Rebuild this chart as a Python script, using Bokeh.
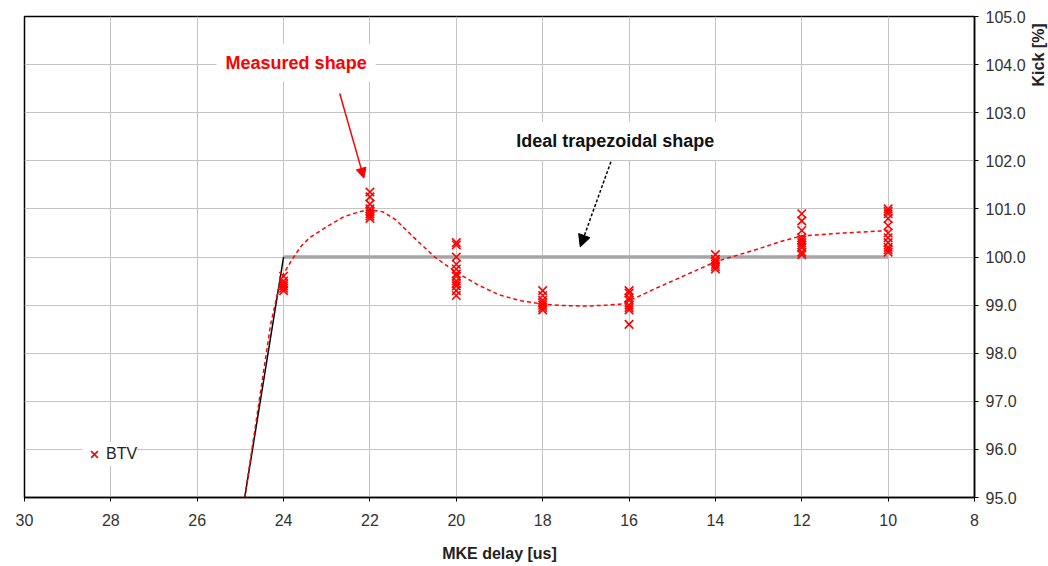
import math
from bokeh.plotting import figure
from bokeh.layouts import row
from bokeh.models import (Range1d, Label, Arrow, NormalHead, FixedTicker,
                          NumeralTickFormatter, ColumnDataSource)
from bokeh.embed import file_html
from bokeh.resources import INLINE

# ---- data ----
delays = [24, 22, 20, 18, 16, 14, 12, 10]
kick_24 = [99.6, 99.5, 99.45, 99.4, 99.35, 99.3]
kick_22 = [101.35, 101.25, 101.1, 101.0, 100.95, 100.9, 100.85, 100.8]
kick_20 = [100.3, 100.25, 100.0, 99.85, 99.75, 99.65, 99.6, 99.5, 99.45, 99.4, 99.3, 99.2]
kick_18 = [99.3, 99.2, 99.1, 99.05, 99.0, 98.95, 98.9]
kick_16 = [99.3, 99.25, 99.15, 99.1, 99.0, 98.95, 98.9, 98.6]
kick_14 = [100.05, 99.95, 99.9, 99.85, 99.8, 99.75]
kick_12 = [100.9, 100.75, 100.55, 100.4, 100.35, 100.3, 100.25, 100.2, 100.1, 100.05]
kick_10 = [101.0, 100.95, 100.9, 100.8, 100.65, 100.5, 100.4, 100.3, 100.2, 100.15, 100.1]
measured = [kick_24, kick_22, kick_20, kick_18, kick_16, kick_14, kick_12, kick_10]

fit_x = [24.9, 24.6, 24.3, 24.1, 24.0, 23.8, 23.6, 23.4, 23.0, 22.6, 22.2, 22.0, 21.7,
         21.4, 21.0, 20.5, 20.0, 19.5, 19.0, 18.5, 18.0, 17.5, 17.0, 16.5, 16.2, 15.8,
         15.4, 14.8, 14.0, 13.0, 12.5, 12.0, 11.0, 10.2, 10.0]
fit_y = [95.0, 96.8, 98.6, 99.4, 99.65, 99.95, 100.22, 100.4, 100.63, 100.84, 100.95,
         100.98, 100.94, 100.77, 100.42, 100.0, 99.68, 99.42, 99.21, 99.09, 99.02, 98.99,
         98.98, 99.0, 99.02, 99.17, 99.34, 99.58, 99.9, 100.17, 100.32, 100.44, 100.5,
         100.54, 100.55]

ideal_ramp_x = [24.9, 24.0]
ideal_ramp_y = [95.0, 100.0]
ideal_flat_x = [24.0, 10.0]
ideal_flat_y = [100.0, 100.0]

x_ticks = [30, 28, 26, 24, 22, 20, 18, 16, 14, 12, 10, 8]
y_ticks = [95, 96, 97, 98, 99, 100, 101, 102, 103, 104, 105]

FONT = "Liberation Sans"

pts_x, pts_y = [], []
for d, vals in zip(delays, measured):
    for v in vals:
        pts_x.append(d)
        pts_y.append(v)

H = 564
p = figure(width=1028, height=H, x_range=Range1d(30, 8), y_range=Range1d(95, 105),
           y_axis_location="right", output_backend="svg", toolbar_location=None,
           min_border_left=24, min_border_top=16, min_border_right=53, min_border_bottom=66)

p.outline_line_color = "black"
p.outline_line_width = 1.5
p.background_fill_color = "white"
p.border_fill_color = "white"

p.grid.grid_line_color = "#c4c4c4"
p.grid.grid_line_width = 1

p.xaxis.ticker = FixedTicker(ticks=x_ticks)
p.yaxis.ticker = FixedTicker(ticks=y_ticks)
p.yaxis.formatter = NumeralTickFormatter(format="0.0")
for ax in (p.xaxis, p.yaxis):
    ax.axis_line_color = "black"
    ax.axis_line_width = 1.5
    ax.major_tick_line_color = "black"
    ax.major_tick_out = 4
    ax.major_tick_in = 0
    ax.minor_tick_line_color = None
    ax.major_label_text_font = FONT
    ax.major_label_text_font_size = "16px"
    ax.major_label_text_color = "#333333"
p.xaxis.major_label_standoff = 12
p.yaxis.major_label_standoff = 7
p.xaxis.axis_label = "MKE delay [us]"
p.xaxis.axis_label_text_font = FONT
p.xaxis.axis_label_text_font_size = "16px"
p.xaxis.axis_label_text_font_style = "bold"
p.xaxis.axis_label_text_color = "#222222"
p.xaxis.axis_label_standoff = 16

# ideal shape
p.line(ideal_flat_x, ideal_flat_y, line_color="#a6a6a6", line_width=3.5)
p.line(ideal_ramp_x, ideal_ramp_y, line_color="black", line_width=1.5)

# fit curve
p.line(fit_x, fit_y, line_color="red", line_width=1.5, line_dash="4 3")

# measured points
src = ColumnDataSource(dict(x=pts_x, y=pts_y))
p.scatter("x", "y", source=src, marker="x", size=12, line_color="red", line_width=1.6,
          legend_label="BTV")

lg = p.legend[0]
lg.location = (58, 31)
lg.background_fill_color = "white"
lg.background_fill_alpha = 1
lg.border_line_color = None
lg.padding = 3
lg.margin = 0
lg.glyph_width = 24
lg.glyph_height = 24
lg.label_standoff = -4
lg.spacing = 0
lg.label_text_font = FONT
lg.label_text_font_size = "16px"
lg.label_text_color = "#222222"

# annotations
p.add_layout(Label(x=23.71, y=104.04, text="Measured shape", text_font=FONT,
                   text_font_size="18px", text_font_style="bold", text_color="red",
                   text_align="center", text_baseline="middle",
                   background_fill_color="white", padding=9))
p.add_layout(Label(x=16.32, y=102.41, text="Ideal trapezoidal shape", text_font=FONT,
                   text_font_size="18px", text_font_style="bold", text_color="#111111",
                   text_align="center", text_baseline="middle",
                   background_fill_color="white", padding=9))
p.add_layout(Arrow(x_start=22.70, y_start=103.40, x_end=22.14, y_end=101.64,
                   line_color="red", line_width=1.5,
                   end=NormalHead(size=10, fill_color="red", line_color="red")))
p.add_layout(Arrow(x_start=16.42, y_start=101.98, x_end=17.13, y_end=100.21,
                   line_color="black", line_width=1.5, line_dash="3 2",
                   end=NormalHead(size=12, fill_color="black", line_color="black")))

# narrow side panel holding the rotated y-axis title
side = figure(width=20, height=H, x_range=Range1d(0, 20), y_range=Range1d(0, H),
              output_backend="svg", toolbar_location=None, min_border=0)
side.axis.visible = False
side.grid.visible = False
side.outline_line_color = None
side.border_fill_color = "white"
side.add_layout(Label(x=10, y=H - 45, text="Kick [%]", text_font=FONT,
                      text_font_size="16px", text_font_style="bold", text_color="#222222",
                      angle=math.pi / 2, text_align="center", text_baseline="middle"))

layout = row(p, side, spacing=0)
open("out.html", "w").write(file_html(layout, INLINE))
